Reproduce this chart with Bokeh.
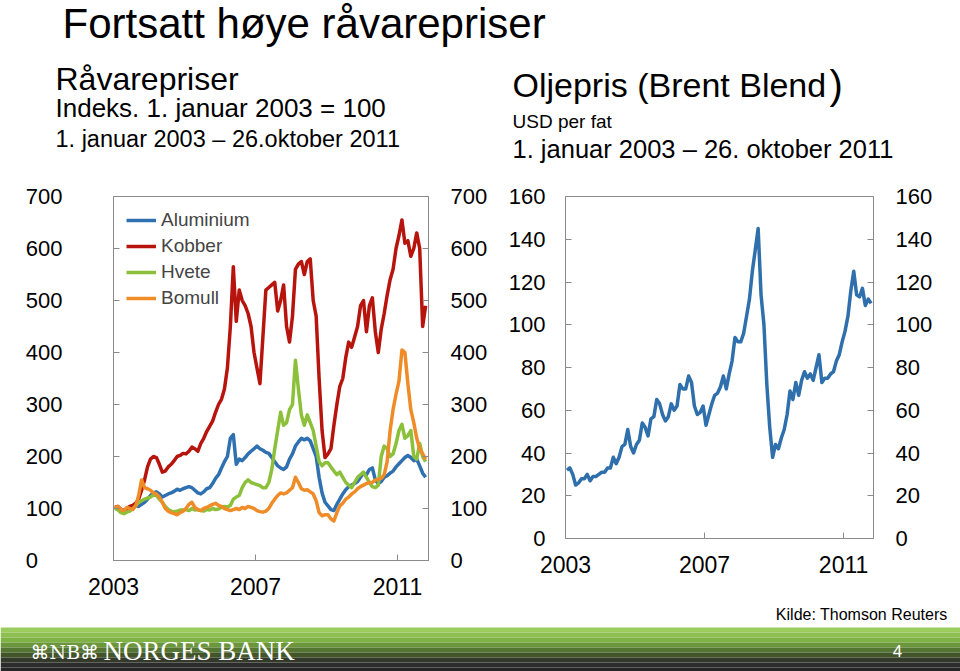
from bokeh.plotting import figure
from bokeh.models import Range1d, FixedTicker, LinearAxis
from bokeh.layouts import column, row
from bokeh.embed import file_html
from bokeh.resources import INLINE
from bokeh.core.properties import value

FONT = "Liberation Sans"
GRAY = "#8a8a8a"

# ---------------- data (monthly, Jan 2003 - Oct 2011) ----------------
start_year = 2003
aluminium = [
    100, 103, 98, 96, 97, 100, 104, 105, 104, 108, 112, 118,
    125, 130, 132, 128, 122, 125, 128, 130, 133, 137, 135, 138,
    140, 142, 140, 135, 130, 128, 132, 138, 140, 148, 158, 165,
    178, 190, 200, 235, 242, 185, 195, 192, 198, 205, 210, 215,
    220, 215, 212, 208, 206, 198, 190, 182, 178, 175, 180, 195,
    205, 220, 228, 235, 232, 235, 230, 215, 200, 160, 130, 112,
    105, 98, 96, 108, 118, 128, 136, 142, 145, 148, 152, 160,
    168, 165, 175, 178, 155, 148, 152, 160, 163, 168, 172, 180,
    186, 192, 198, 202, 198, 192, 195, 182, 168, 160,
]
kobber = [
    102, 104, 98, 96, 100, 104, 106, 110, 118, 135, 155, 180,
    195, 200, 198, 185, 170, 172, 180, 185, 192, 200, 202, 206,
    205, 210, 218, 215, 210, 225, 235, 248, 258, 268, 285, 300,
    310, 330, 370, 450, 565, 460, 520, 500, 490, 475, 450, 400,
    370, 340, 430, 520, 525, 530, 535, 480, 500, 530, 450, 420,
    470, 560, 570, 575, 550, 575, 580, 500, 470, 350, 250, 198,
    205, 215, 260, 300, 335, 350, 390, 420, 410, 430, 450, 490,
    500, 440, 490, 505, 440, 400, 445, 475, 510, 540, 560, 600,
    625, 655, 610, 615, 585, 600, 630, 600, 450, 490,
]
hvete = [
    100, 97, 92, 90, 93, 95, 100, 105, 112, 115, 118, 120,
    122, 126, 125, 118, 112, 104, 98, 95, 94, 95, 97, 97,
    98, 96, 100, 97, 98, 96, 95, 98, 97, 100, 98, 99,
    102, 104, 103, 106, 118, 122, 125, 140, 150, 155, 150, 148,
    146, 144, 140, 140, 150, 175, 215, 250, 285, 260, 265, 290,
    300, 385, 330, 280, 260, 280, 265, 250, 220, 190, 182, 188,
    188, 180, 172, 165, 170, 160, 150, 145, 140, 150, 160, 165,
    170, 160, 150, 142, 140, 145, 200, 220, 215, 200, 205, 225,
    250, 262, 235, 240, 250, 200, 195, 225, 200, 190,
]
bomull = [
    100, 104, 98, 96, 102, 100, 98, 105, 125, 155, 140, 138,
    135, 130, 128, 122, 112, 100, 95, 92, 90, 88, 92, 95,
    100, 108, 112, 102, 98, 96, 100, 102, 105, 108, 110, 106,
    104, 100, 98, 96, 98, 100, 98, 102, 100, 104, 102, 100,
    96, 94, 93, 95, 100, 110, 118, 125, 130, 128, 130, 135,
    140, 160, 150, 138, 135, 136, 132, 128, 115, 92, 86, 88,
    88, 80, 76, 92, 105, 110, 118, 122, 128, 132, 138, 142,
    145, 148, 150, 150, 155, 156, 158, 165, 190, 250, 290, 320,
    345, 405, 400, 340, 290, 265, 235, 215, 205, 195,
]
brent = [
    32, 33, 30, 25, 26, 28, 28, 30, 27, 29, 29, 30,
    31, 31, 33, 33, 38, 35, 38, 43, 44, 51, 43, 40,
    44, 46, 54, 52, 48, 56, 57, 65, 63, 58, 55, 57,
    63, 60, 62, 72, 70, 70, 76, 73, 62, 58, 59, 62,
    53, 58, 63, 67, 68, 71, 76, 70, 77, 83, 94, 92,
    92, 96, 104, 112, 125, 135, 145, 114, 100, 72, 52, 38,
    44, 42, 47, 51, 58, 69, 65, 73, 67, 74, 78, 75,
    77, 74, 80, 86, 73, 75, 75, 77, 78, 83, 86, 92,
    97, 104, 116, 125, 114, 113, 117, 109, 112, 110,
]
series_names = ["Aluminium", "Kobber", "Hvete", "Bomull"]
series_colors = ["#2f70b0", "#b8140e", "#8cc03a", "#f08c28"]
year_ticks = [2003, 2007, 2011]
left_ticks = [0, 100, 200, 300, 400, 500, 600, 700]
right_ticks = [0, 20, 40, 60, 80, 100, 120, 140, 160]


def month_x(n):
    return [start_year + (i + 0.5) / 12.0 for i in range(n)]


def style_axis(ax, ticks, standoff, size="22px"):
    ax.ticker = FixedTicker(ticks=ticks)
    ax.axis_line_color = GRAY
    ax.major_tick_line_color = GRAY
    ax.major_tick_in = 6
    ax.major_tick_out = 0
    ax.minor_tick_line_color = None
    ax.major_label_text_font = FONT
    ax.major_label_text_font_size = size
    ax.major_label_text_color = "black"
    ax.major_label_standoff = standoff


def base_fig(w, h, **kw):
    p = figure(width=w, height=h, output_backend="svg", toolbar_location=None,
               title=None, **kw)
    p.background_fill_color = "white"
    p.border_fill_color = "white"
    p.grid.visible = False
    return p


def put_text(fig, x, baseline, txt, size, font=FONT, color="black", align="left"):
    # the glyph anchors near the text middle; shift so the baseline lands where wanted
    fig.text(x=[x], y=[baseline - 0.32 * size], text=[txt], text_font=value(font),
             text_font_size=f"{size}px", text_baseline="alphabetic", text_align=align,
             text_color=color)


# ---------------- header ----------------
HEAD_H = 170
header = base_fig(960, HEAD_H, x_range=Range1d(0, 960), y_range=Range1d(HEAD_H, 0),
                  x_axis_location=None, y_axis_location=None, min_border=0)
header.outline_line_color = None
put_text(header, 62, 36, "Fortsatt høye råvarepriser", 42)
put_text(header, 55, 89, "Råvarepriser", 32)
put_text(header, 55, 116, "Indeks. 1. januar 2003 = 100", 26)
put_text(header, 55, 146, "1. januar 2003 – 26.oktober 2011", 23.5)
put_text(header, 512, 95, "Oljepris (Brent Blend", 34)
put_text(header, 829, 97, ")", 40)
put_text(header, 512, 127, "USD per fat", 19)
put_text(header, 512, 157, "1. januar 2003 – 26. oktober 2011", 25.5)

# ---------------- left chart ----------------
BOTTOM = 44
n = len(kobber)
xs = month_x(n)
left = base_fig(490, 26 + 364 + BOTTOM, x_range=Range1d(2003.0, 2011.873), y_range=Range1d(0, 700),
                min_border_left=113, min_border_right=62, min_border_top=26,
                min_border_bottom=BOTTOM)
left.outline_line_color = GRAY
for name, col, vals in zip(series_names, series_colors, [aluminium, kobber, hvete, bomull]):
    left.line(xs, vals, line_color=col, line_width=3.5, line_join="round", legend_label=name)
left.add_layout(LinearAxis(), "right")
style_axis(left.xaxis[0], year_ticks, 17, "23px")
style_axis(left.yaxis[0], left_ticks, 51)
left.yaxis[0].major_label_overrides = {0: "0\u2007\u2007"}
style_axis(left.yaxis[1], left_ticks, 22)
leg = left.legend[0]
leg.location = "top_left"
leg.border_line_color = None
leg.background_fill_alpha = 0
leg.label_text_font = FONT
leg.label_text_font_size = "19px"
leg.glyph_width = 30
leg.glyph_height = 20
leg.label_height = 20
leg.spacing = 4
leg.padding = 10
leg.margin = 13
leg.label_standoff = 5

# ---------------- right chart ----------------
xb = month_x(len(brent))
rightp = base_fig(470, 26 + 342 + BOTTOM, x_range=Range1d(2003.0, 2011.86), y_range=Range1d(0, 160),
                  min_border_left=75, min_border_right=87, min_border_top=26,
                  min_border_bottom=BOTTOM)
rightp.outline_line_color = GRAY
rightp.line(xb, brent, line_color="#2f6fac", line_width=3.5, line_join="round")
rightp.add_layout(LinearAxis(), "right")
style_axis(rightp.xaxis[0], year_ticks, 17, "23px")
style_axis(rightp.yaxis[0], right_ticks, 20)
style_axis(rightp.yaxis[1], right_ticks, 22)

# ---------------- footer ----------------
FOOT_TOP = HEAD_H + 26 + 364 + BOTTOM
footer = base_fig(960, 671 - FOOT_TOP, x_range=Range1d(0, 960), y_range=Range1d(671, FOOT_TOP),
                  x_axis_location=None, y_axis_location=None, min_border=0)
footer.outline_line_color = None
band_edges = [627, 632, 637, 642, 647, 652, 657, 662, 667, 671]
band_colors = ["#9ccc5e", "#8dc050", "#7fb245", "#6c963c", "#557532",
               "#415528", "#333a2a", "#2c2c2c", "#262626"]
footer.quad(left=[0] * len(band_colors), right=[960] * len(band_colors),
            top=band_edges[:-1], bottom=band_edges[1:], fill_color=band_colors,
            line_color=None)
put_text(footer, 947, 619, "Kilde: Thomson Reuters", 16, align="right")
put_text(footer, 30, 658, "⌘NB⌘", 19, font="DejaVu Serif", color="white")
put_text(footer, 103, 659, "NORGES BANK", 27, font="Liberation Serif", color="white")
put_text(footer, 897, 656, "4", 17, color="white", align="center")

layout = column(header, row(left, rightp), footer)
open("out.html", "w").write(file_html(layout, INLINE))
